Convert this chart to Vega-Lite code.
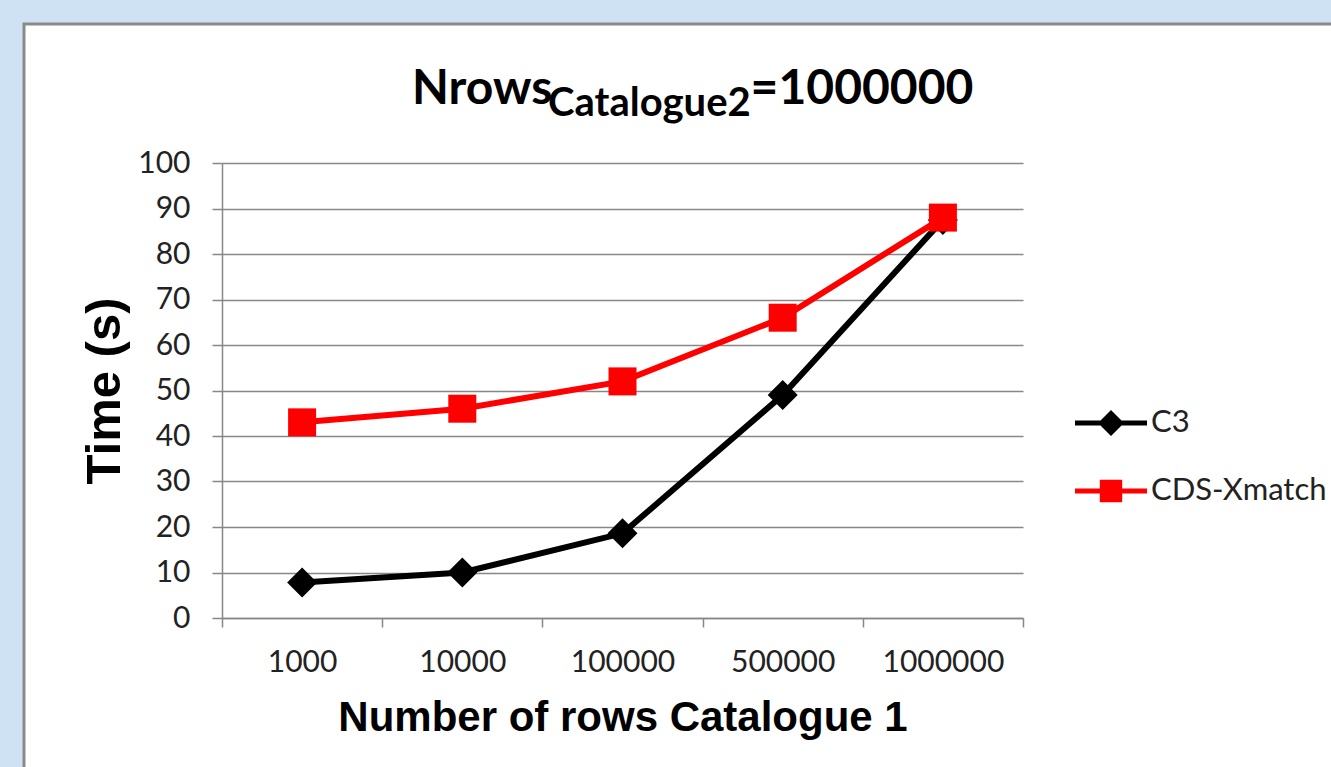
{
  "$schema": "https://vega.github.io/schema/vega-lite/v6.json",
  "autosize": {"type": "none"},
  "width": 1311,
  "height": 747,
  "padding": {"left": 24, "top": 24, "right": -4, "bottom": -4},
  "background": "#cfe2f3",
  "config": {
    "view": {"fill": "#ffffff", "stroke": "#8a8a8a", "strokeWidth": 3},
    "axis": {
      "domainColor": "#878787", "domainWidth": 1.5,
      "tickColor": "#878787", "tickWidth": 1.5,
      "gridColor": "#878787", "gridWidth": 1.5,
      "labelFont": "Lato", "labelFontSize": 30, "labelColor": "#222222",
      "titleFont": "Liberation Sans", "titleFontWeight": "bold", "titleColor": "#000000"
    }
  },
  "title": {
    "text": "Nrows\u00a0\u00a0\u00a0\u00a0\u00a0\u00a0\u00a0\u00a0\u00a0\u00a0\u00a0\u00a0\u00a0\u00a0\u00a0\u00a0\u00a0=1000000",
    "subtitle": "\u200b\u00a0\u00a0\u00a0\u00a0\u00a0\u00a0\u00a0\u00a0\u00a0\u00a0\u00a0\u00a0\u00a0\u00a0Catalogue2",
    "anchor": "start", "frame": "group", "align": "left",
    "dx": 388, "offset": -100,
    "font": "Lato", "fontSize": 48, "fontWeight": "bold", "color": "#000000",
    "subtitleFont": "Lato", "subtitleFontSize": 40, "subtitleFontWeight": "bold", "subtitleColor": "#000000",
    "subtitlePadding": -30
  },
  "data": {
    "values": [
      {"rows": "1000", "series": "C3", "time": 7.8},
      {"rows": "10000", "series": "C3", "time": 10},
      {"rows": "100000", "series": "C3", "time": 18.6},
      {"rows": "500000", "series": "C3", "time": 49},
      {"rows": "1000000", "series": "C3", "time": 87.5},
      {"rows": "1000", "series": "CDS-Xmatch", "time": 43},
      {"rows": "10000", "series": "CDS-Xmatch", "time": 46},
      {"rows": "100000", "series": "CDS-Xmatch", "time": 52},
      {"rows": "500000", "series": "CDS-Xmatch", "time": 66},
      {"rows": "1000000", "series": "CDS-Xmatch", "time": 88}
    ]
  },
  "encoding": {
    "x": {
      "field": "rows", "type": "nominal",
      "sort": ["1000", "10000", "100000", "500000", "1000000"],
      "scale": {"type": "band", "range": [198, 999], "paddingInner": 0, "paddingOuter": 0},
      "axis": {
        "title": "Number of rows Catalogue 1", "titleFontSize": 42, "labelAngle": 0,
        "offset": -153, "tickBand": "extent", "tickSize": 9, "labelPadding": 20,
        "titlePadding": 20, "grid": false
      }
    },
    "y": {
      "field": "time", "type": "quantitative",
      "scale": {"domain": [0, 100], "range": [594, 139], "nice": false, "zero": true},
      "axis": {
        "title": "Time (s)", "titleFontSize": 49, "values": [0, 10, 20, 30, 40, 50, 60, 70, 80, 90, 100],
        "offset": -198, "tickSize": 10, "labelPadding": 22, "titlePadding": 8, "grid": true
      }
    }
  },
  "layer": [
    {
      "mark": {"type": "line", "strokeWidth": 6},
      "encoding": {
        "color": {
          "field": "series", "type": "nominal",
          "scale": {"domain": ["C3", "CDS-Xmatch"], "range": ["#000000", "#ff0000"]},
          "legend": {
            "orient": "none", "legendX": 1067, "legendY": 379, "title": null, "padding": 0,
            "symbolSize": 1600, "symbolStrokeWidth": 0, "labelOffset": 20, "rowPadding": 33,
            "labelFont": "Lato", "labelFontSize": 31, "labelColor": "#222222", "labelLimit": 400,
            "encode": {
              "symbols": {
                "update": {
                  "shape": {"signal": "datum.value === 'C3' ? 'M-1.8,-0.125H1.8V0.125H-1.8Z M0,-0.65L0.65,0L0,0.65L-0.65,0Z' : 'M-1.8,-0.125H1.8V0.125H-1.8Z M-0.56,-0.56H0.56V0.56H-0.56Z'"},
                  "fill": {"signal": "datum.value === 'C3' ? '#000000' : '#ff0000'"},
                  "fillOpacity": {"value": 1},
                  "strokeWidth": {"value": 0}
                }
              }
            }
          }
        }
      }
    },
    {
      "transform": [{"filter": "datum.series === 'C3'"}],
      "mark": {"type": "point", "shape": "diamond", "filled": true, "size": 900, "color": "#000000", "opacity": 1}
    },
    {
      "transform": [{"filter": "datum.series === 'CDS-Xmatch'"}],
      "mark": {"type": "point", "shape": "square", "filled": true, "size": 784, "color": "#ff0000", "opacity": 1}
    }
  ]
}
